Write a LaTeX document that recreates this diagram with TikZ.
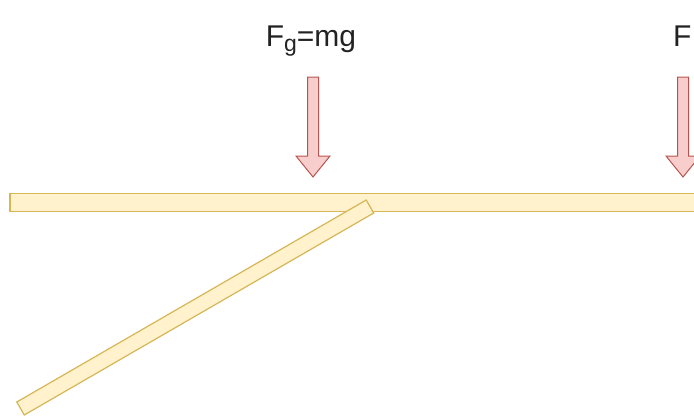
\documentclass[tikz,border=0pt]{standalone}
\usepackage{fontspec}
\setmainfont{Liberation Sans}
\definecolor{barfill}{HTML}{FFF2CC}
\definecolor{barline}{HTML}{D6B656}
\definecolor{arrfill}{HTML}{F8CECC}
\definecolor{arrline}{HTML}{B85450}
\definecolor{txt}{HTML}{222222}
\begin{document}
\begin{tikzpicture}[x=1pt,y=-1pt,
  bar/.style={fill=barfill,draw=barline,line width=1.2pt},
  force/.style={fill=arrfill,draw=arrline,line width=1pt,line join=miter},
  lbl/.style={text=txt,font=\fontsize{30}{36}\selectfont,inner sep=0pt,anchor=base}]
\useasboundingbox (0,0) rectangle (694,416);
% horizontal beam
\draw[bar] (10,193.5) rectangle (710,211.5);
% inclined strut
\draw[bar,rotate around={30.03:(195.25,307.5)}] (195.25-201.8,307.5-7.5) rectangle (195.25+201.8,307.5+7.5);
% force arrows
\foreach \cx/\nm in {313/a,683/b}{
  \draw[force] (\cx-5.5,77) -- (\cx+5.5,77) -- (\cx+5.5,156) -- (\cx+17,156) -- (\cx,177)
    -- (\cx-17,156) -- (\cx-5.5,156) -- cycle;
}
\node[lbl] (fg) at (311,46) {F\raisebox{-5.5pt}{\fontsize{23}{26}\selectfont g}=mg};
\node[lbl,anchor=base west] (f2) at (673,46) {F};
\end{tikzpicture}
\end{document}
